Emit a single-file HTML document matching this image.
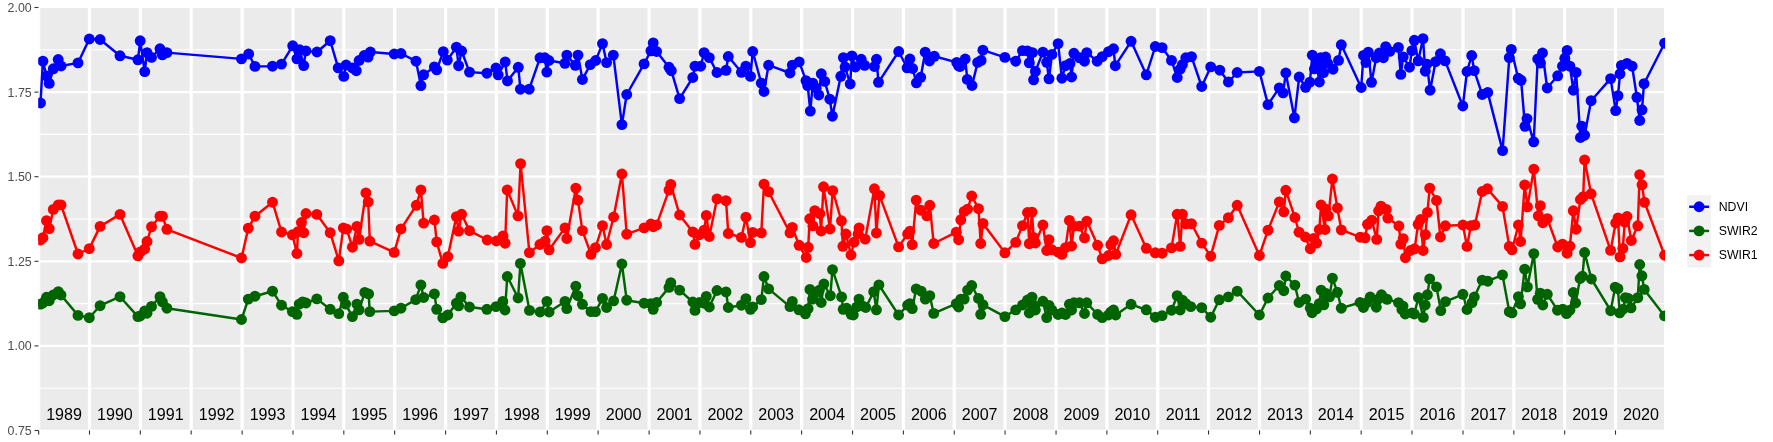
<!DOCTYPE html><html><head><meta charset="utf-8"><style>html,body{margin:0;padding:0;background:#fff;}svg{display:block;will-change:transform;}text{font-family:"Liberation Sans",sans-serif;}</style></head><body>
<svg width="1773" height="442" viewBox="0 0 1773 442">
<rect x="0" y="0" width="1773" height="442" fill="#ffffff"/>
<defs><clipPath id="pc"><rect x="38.4" y="7.9" width="1625.6" height="421.8"/></clipPath><clipPath id="pc2"><rect x="38.2" y="7.9" width="1626.9" height="421.8"/></clipPath></defs>
<rect x="38.4" y="7.9" width="1625.6" height="421.8" fill="#EBEBEB"/>
<g clip-path="url(#pc)">
<line x1="38.4" x2="1664" y1="388.2" y2="388.2" stroke="#fff" stroke-width="1.1"/>
<line x1="38.4" x2="1664" y1="303.6" y2="303.6" stroke="#fff" stroke-width="1.1"/>
<line x1="38.4" x2="1664" y1="219" y2="219" stroke="#fff" stroke-width="1.1"/>
<line x1="38.4" x2="1664" y1="134.4" y2="134.4" stroke="#fff" stroke-width="1.1"/>
<line x1="38.4" x2="1664" y1="49.8" y2="49.8" stroke="#fff" stroke-width="1.1"/>
<line x1="38.4" x2="1664" y1="345.9" y2="345.9" stroke="#fff" stroke-width="2.2"/>
<line x1="38.4" x2="1664" y1="261.3" y2="261.3" stroke="#fff" stroke-width="2.2"/>
<line x1="38.4" x2="1664" y1="176.7" y2="176.7" stroke="#fff" stroke-width="2.2"/>
<line x1="38.4" x2="1664" y1="92.1" y2="92.1" stroke="#fff" stroke-width="2.2"/>
<line x1="38.67" x2="38.67" y1="7.9" y2="429.7" stroke="#fff" stroke-width="3.2"/>
<line x1="89.5" x2="89.5" y1="7.9" y2="429.7" stroke="#fff" stroke-width="3.2"/>
<line x1="140.33" x2="140.33" y1="7.9" y2="429.7" stroke="#fff" stroke-width="3.2"/>
<line x1="191.17" x2="191.17" y1="7.9" y2="429.7" stroke="#fff" stroke-width="3.2"/>
<line x1="242.14" x2="242.14" y1="7.9" y2="429.7" stroke="#fff" stroke-width="3.2"/>
<line x1="292.98" x2="292.98" y1="7.9" y2="429.7" stroke="#fff" stroke-width="3.2"/>
<line x1="343.81" x2="343.81" y1="7.9" y2="429.7" stroke="#fff" stroke-width="3.2"/>
<line x1="394.64" x2="394.64" y1="7.9" y2="429.7" stroke="#fff" stroke-width="3.2"/>
<line x1="445.62" x2="445.62" y1="7.9" y2="429.7" stroke="#fff" stroke-width="3.2"/>
<line x1="496.45" x2="496.45" y1="7.9" y2="429.7" stroke="#fff" stroke-width="3.2"/>
<line x1="547.29" x2="547.29" y1="7.9" y2="429.7" stroke="#fff" stroke-width="3.2"/>
<line x1="598.12" x2="598.12" y1="7.9" y2="429.7" stroke="#fff" stroke-width="3.2"/>
<line x1="649.09" x2="649.09" y1="7.9" y2="429.7" stroke="#fff" stroke-width="3.2"/>
<line x1="699.93" x2="699.93" y1="7.9" y2="429.7" stroke="#fff" stroke-width="3.2"/>
<line x1="750.76" x2="750.76" y1="7.9" y2="429.7" stroke="#fff" stroke-width="3.2"/>
<line x1="801.6" x2="801.6" y1="7.9" y2="429.7" stroke="#fff" stroke-width="3.2"/>
<line x1="852.57" x2="852.57" y1="7.9" y2="429.7" stroke="#fff" stroke-width="3.2"/>
<line x1="903.4" x2="903.4" y1="7.9" y2="429.7" stroke="#fff" stroke-width="3.2"/>
<line x1="954.24" x2="954.24" y1="7.9" y2="429.7" stroke="#fff" stroke-width="3.2"/>
<line x1="1005.07" x2="1005.07" y1="7.9" y2="429.7" stroke="#fff" stroke-width="3.2"/>
<line x1="1056.05" x2="1056.05" y1="7.9" y2="429.7" stroke="#fff" stroke-width="3.2"/>
<line x1="1106.88" x2="1106.88" y1="7.9" y2="429.7" stroke="#fff" stroke-width="3.2"/>
<line x1="1157.71" x2="1157.71" y1="7.9" y2="429.7" stroke="#fff" stroke-width="3.2"/>
<line x1="1208.55" x2="1208.55" y1="7.9" y2="429.7" stroke="#fff" stroke-width="3.2"/>
<line x1="1259.52" x2="1259.52" y1="7.9" y2="429.7" stroke="#fff" stroke-width="3.2"/>
<line x1="1310.36" x2="1310.36" y1="7.9" y2="429.7" stroke="#fff" stroke-width="3.2"/>
<line x1="1361.19" x2="1361.19" y1="7.9" y2="429.7" stroke="#fff" stroke-width="3.2"/>
<line x1="1412.02" x2="1412.02" y1="7.9" y2="429.7" stroke="#fff" stroke-width="3.2"/>
<line x1="1463" x2="1463" y1="7.9" y2="429.7" stroke="#fff" stroke-width="3.2"/>
<line x1="1513.83" x2="1513.83" y1="7.9" y2="429.7" stroke="#fff" stroke-width="3.2"/>
<line x1="1564.67" x2="1564.67" y1="7.9" y2="429.7" stroke="#fff" stroke-width="3.2"/>
<line x1="1615.5" x2="1615.5" y1="7.9" y2="429.7" stroke="#fff" stroke-width="3.2"/>
<line x1="1666.47" x2="1666.47" y1="7.9" y2="429.7" stroke="#fff" stroke-width="3.2"/>
</g><g clip-path="url(#pc2)">
<polyline points="40.5,103 42.9,61.2 46.5,76 49.2,83.4 53.3,68.8 58.2,59.5 61.1,66 78,62.9 89.3,39 100.1,39.5 120,55.8 137.9,59.8 140.2,40.8 144.7,71.6 147,52.6 151.5,57.4 160,48.8 162.4,54.9 166.9,52.6 241.5,58.9 248.7,54 255,66.4 272.5,66.2 281.5,64.1 292.7,45.8 296.9,58.8 299.7,49.8 303.7,65.6 305.9,50.9 317,52 330.2,40.7 338.2,67.9 343.8,76.4 346.1,65 352.4,68 356.3,70.7 359.1,60.5 364.2,55.5 368.1,57.1 370.4,52 394.2,54 401,53.5 416,61.2 420.9,85.6 423.6,74.8 434.4,66.9 436.7,69.8 443.3,51.7 447.3,60.1 456.4,47.2 458.6,65.7 461.6,51 469.5,72.1 486.9,73.2 496,68 498.2,74.8 505.2,61.9 507.5,80.9 518.3,67.3 520.4,89.2 529.2,89.2 540,57.8 544.8,57.8 546.8,72.1 548.9,60.5 564.9,63.3 566.8,55.1 575.3,65.3 578,55.1 582.4,79.5 590.3,64.6 595.7,60.5 602.5,43.6 606.6,62.6 613.3,55.1 621.9,124.6 626.7,94.5 644.1,63.9 650.9,50.8 653.2,42.9 656.6,51.5 669,67.3 671.3,70.7 679.6,98.6 692.8,77.5 695,66.2 700.7,66.2 704.1,52.6 709.3,57.6 717,72.5 726,70.3 728.3,56.5 741.4,72.3 745.9,66.2 750.5,76.4 752.7,51.5 761.3,83.2 764,91.5 768.6,65.1 790,73 792.3,65.1 799.2,61.9 806,80.6 807.7,85.7 810.3,111.1 812.8,83.1 816.2,88.2 818.8,95 821.3,73.8 824.7,81.4 829.8,99.2 832.4,116.2 840.8,76.3 843.4,57.6 845.1,67 850.2,84 851.9,55.9 855.3,67 861.2,59.3 864.6,65.3 874.4,66.5 876.5,59.3 878.5,82.3 898.7,51.5 907.1,67.8 909.9,59 912.6,68.5 916.4,82.8 920.7,77.3 925.2,52.2 929.5,61 934.3,56.3 956.7,62.4 958.6,66 960.1,66.5 965.2,59 967.3,79.4 972,85.5 977.7,62.4 981.1,60.4 982.9,50.2 1004.9,57.4 1015.7,61.2 1022.5,50.6 1027.5,51 1029.3,62.8 1032.5,52.6 1033.6,79.8 1035.4,71.4 1042.9,52.1 1046.7,62.3 1049,78.8 1051.9,54.4 1058.1,43.6 1061.9,78.2 1065.5,65.7 1070,63.5 1071.6,77 1073.9,53.3 1079.5,57.8 1084.5,61.2 1086.8,52.6 1097.2,61.2 1102.2,56.7 1108.5,51.7 1113.5,48.8 1115.3,65.7 1131.1,41.3 1146.3,74.8 1155.3,46.5 1162.1,47.6 1171.5,60.4 1177.2,77.5 1180.2,69.1 1182.4,64.6 1185.8,57.8 1191.5,56.7 1201.7,86.5 1210.7,66.9 1219.8,70.2 1228.4,82 1237.2,72.5 1259.4,71.4 1268,104.6 1279.3,87.9 1283.1,92.9 1285.8,73 1294.4,117.8 1299.2,77 1305.6,87.3 1309.9,82.1 1312.3,55.2 1314.4,68.8 1316.6,63.5 1319.4,82 1320.8,57.7 1323.5,72.6 1325.6,57 1327.6,63.1 1333,69.2 1338.5,60.4 1341.3,44.8 1361.2,87.5 1363.5,55.4 1365.9,62.5 1368.3,52.2 1371.5,82.3 1376.2,57.7 1379.4,53 1383.4,57.7 1385.7,46.6 1389.7,51.4 1398.4,47.4 1400.8,74.4 1403.2,56.9 1409.5,67.2 1411.9,50.6 1414.3,40.3 1418.2,60.9 1423,38.7 1425.3,71.2 1426.9,64.1 1430.1,90.2 1435.6,61.7 1440.4,53.8 1445.1,60.9 1462.8,106 1467,71.5 1471.7,55.5 1474.2,70.6 1482.2,94.5 1487.7,92.4 1502.6,150.6 1509.3,57.6 1511.3,49.4 1518.2,78.3 1521.1,80.3 1525,126.3 1527,118.6 1533.7,141.8 1537.7,59 1540.5,63.1 1542.5,53 1547.2,88 1557.7,75.8 1562.5,66.2 1564.8,58.3 1567.1,50.4 1569.9,66.2 1573.3,90.2 1576.1,72.4 1580.4,137.5 1581.8,126.2 1584.6,135.2 1591.1,100.7 1610.6,78.6 1615.7,110.6 1618,95.6 1620,73.8 1621.4,65.4 1627,63.4 1632.1,66.2 1636.9,97.3 1639.7,120.5 1642,109.8 1644,83.7 1664.6,43.2" fill="none" stroke="#0000FF" stroke-width="2.45" stroke-linejoin="round" stroke-linecap="butt"/>

<polyline points="40.5,240 42.9,237.7 46.5,220.7 49.2,228.6 53.3,209.4 58.3,204.9 61,204.9 78,254 89.3,248.6 100.1,226.4 120,214.4 137.9,255.8 140.2,252 144.7,249 147,241.5 151.5,226.8 160,216.2 162.4,216.2 166.9,229.3 241.5,258 248.3,228.2 255,216.2 272.5,202.2 281.5,232 292.4,234.8 296.9,253.5 298,231.6 301.4,222.5 303.7,232.7 306,213.5 316.8,214.4 330.2,232.7 338.8,260.8 343.3,228 346.7,229.1 352.4,247.2 356.9,226.4 359.1,239.3 365.9,192.9 368.2,201.9 369.8,241.1 394.2,252.4 401,228.9 416.3,205.3 420.9,189.9 423.6,223.1 434.4,220 436.7,241.9 442.8,263.4 447.8,256.6 456.4,216.6 458.6,231.1 461.6,214.3 469.5,230.6 487.2,240 496.4,241 503,236 505.1,243.2 507.2,190 518,215.9 520.6,163.6 529.4,252.6 539.9,244.5 545.1,241.1 546.9,230.7 549.1,249.8 565,227.9 566.8,238.5 575.8,188.1 577.9,200.1 582.4,230.6 591,254.4 595.5,247.6 602.5,225.6 606.6,244.5 613.6,217 621.9,174 626.7,234.2 644.1,227.9 650.9,224 653.2,226.7 656.6,224.9 669,190.1 670.8,184.4 679.6,215 692.8,231.9 695,244.4 699.5,234.7 704.1,230.1 706.3,215.4 709.3,236.5 717,198.9 726,200.7 728.3,233.5 741.4,237.4 745.9,217.2 750.5,242.6 752.7,232.4 761.3,232.9 764,184.2 768.6,191.7 790,232.9 792.3,227.4 799.1,245.3 806.2,257.5 808.2,247.3 809.7,218.8 812.9,225.9 814.8,210.6 819.8,213.7 821.1,231 823.5,186.8 830,229 832.7,190.7 841.4,220.8 842.9,246.3 845.9,234 851,255 854,242.2 858.1,234 859.1,227.9 865.2,239.1 874.4,188.8 876.4,233 879.5,195.4 898.6,246.9 907.6,234 909.9,231.1 912.2,244.6 916.2,200.1 920.8,210.2 926.9,215.9 929.8,205.3 933.7,243.5 956.3,232.2 958.6,239.7 960.8,219.8 964.2,211.4 967.6,209.1 971.7,196 978.5,208.7 980.7,243.5 983,223.4 1004.9,252.8 1015.7,242.4 1022.5,225.6 1027.5,212.5 1029.3,243.7 1032,212.1 1033.6,237.4 1035.4,243 1042.9,225 1046.7,250.5 1049,239.7 1051.9,249.8 1058.1,252.1 1061.9,254.4 1065.5,247.6 1069.4,220.4 1071.6,246 1073.9,226.1 1079.5,226.1 1084.5,237.9 1086.8,221.1 1097.6,245.3 1102.2,258.9 1108.5,255.5 1110.8,244.6 1113.5,240.8 1115.7,254.4 1131.1,214.8 1146.3,248.3 1155.3,252.8 1162.1,253.2 1171.5,247.9 1177.2,214.3 1180.2,246.4 1182.4,214.3 1185.8,223.8 1191.5,223.8 1201.7,243.1 1210.7,256.2 1219.3,225.4 1228.4,217.7 1237.2,205.3 1259.4,255.5 1268,230.2 1279.3,201.9 1283.8,211.8 1285.8,190.3 1294.9,217.5 1299,232.2 1305.3,237 1310.3,248.7 1313.7,238.5 1316.6,243.1 1319.3,229.5 1321.1,205 1325,229.5 1325.7,209.1 1328.4,215.9 1332.4,179 1337.4,208 1341.3,229.9 1360.2,237.2 1365.1,237.8 1367.5,224.3 1371.8,220.2 1376.7,239.4 1378.6,210.8 1381,206.1 1386.3,209.4 1387.8,218.1 1398.9,226 1400.8,244.1 1403.2,238.6 1405.4,257.7 1410.5,250.5 1414.6,248.8 1418.1,224.3 1420.6,219.5 1423.1,250.5 1425.4,234.6 1427.4,212.4 1429.7,188.1 1436.5,200.5 1440.4,237 1445.3,225.8 1462.9,225 1467,246.4 1470.9,225.6 1474.9,225 1482.2,191.5 1487.4,188.8 1502.5,206.4 1509.3,246.4 1512,249.8 1518.4,225 1520.6,241.5 1524.7,184.9 1527.4,206.9 1533.8,169.1 1538.3,215.9 1540.3,205.7 1542.8,222.7 1547.3,218.6 1557.7,247 1562.5,244.2 1567.1,253.2 1569.9,246.2 1573.3,210.8 1576.1,229.2 1580.4,199.5 1583.2,196.7 1584.6,159.9 1591.1,193.8 1610.6,250.4 1615.7,223 1618,217.9 1620,256.9 1622.8,248.4 1624.8,222.1 1627,216.5 1631.3,240.5 1637.8,225.8 1639.7,174.6 1642,184.8 1644.5,202.3 1664.6,255.2" fill="none" stroke="#FF0000" stroke-width="2.45" stroke-linejoin="round" stroke-linecap="butt"/>

<polyline points="40.5,304.1 42.9,303 46.5,297.3 49.2,300.7 53.3,295 58.3,291.7 61,295 78,315.4 89.3,317.7 100.1,305.7 120,296.7 137.9,316.6 140.2,316 144.7,311 147,313.2 151.5,306.4 160,296.7 162.4,301.9 166.9,308.2 241.5,319.5 248.3,299.1 255,296.2 272.5,291.2 281.5,305.2 292.4,311.6 296.9,314.3 299.2,304.1 302.6,301.9 306,303 316.8,298.9 330.2,309.3 338.8,313.6 343.3,297.3 345.6,304.1 352.4,316.6 356.9,304.1 359.1,309.8 364.8,292.4 368.6,293.9 369.8,311.6 394.2,310.9 401,308.2 415.7,299.6 420.9,284.9 423.6,297.5 434.4,293.9 436.7,309.3 442.8,317.9 447.8,315 456.4,303.2 458.6,305.9 460.9,296.9 469.5,307 486.9,309.3 496,306.6 502.8,301.4 505,310 507.3,276.5 518.1,298 520.4,263.4 529.5,310.4 540.1,312 546.9,301.4 549.1,312 565,301.4 566.8,308.6 575.8,286.2 577.9,295.7 582.4,304.3 591,311.6 595.5,311.6 602.5,298.4 606.6,307.5 613.6,300.9 621.9,264 626.7,300.2 644.1,303.2 650.9,303.6 653.2,309.3 656.6,302.5 669,287.4 670.8,282.6 679.6,290.1 692.8,302 695,310.4 699.5,302.5 704.1,303.2 706.3,296.4 709.3,307 717,290.5 726,291.9 728.3,307.5 741.4,305.2 745.9,298.7 750.5,309.3 752.7,307 761.3,299.6 764,276.5 768.6,288.9 790,306.6 792.3,301.4 799,309.8 805.4,313.8 808.1,308.6 809.9,289.4 812.6,299.1 814.9,293.5 819.4,290.1 821.2,302.5 823.9,284 830.3,295.7 832.5,269.7 841.6,296.9 843.2,309.3 846.6,308.2 851.1,314.3 853.3,315 856.7,307 859,299.1 862.4,305.9 865.8,307.5 873.7,291.7 876.4,309.8 878.9,284.9 898.6,315 907.6,305.2 909.9,303.6 912.2,308.6 916.2,288.9 921.2,291.2 925.3,299.1 929.8,295.7 933.7,313.4 956.3,303.6 958.6,307 960.8,299.1 964.2,299.1 967.6,290.1 971.7,285.5 978.5,298.4 980.7,314.3 983,304.8 1004.9,316.6 1015.7,309.9 1022.5,305 1027.5,300 1029.3,313 1032,297.2 1033.6,305 1035.4,310 1042.9,301.3 1046.7,317.6 1049,305.4 1051.9,310 1058.1,314.5 1061.9,313 1065.5,314.5 1069.4,304.3 1071.6,310 1073.9,302.8 1079.5,302.8 1084.5,313.5 1086.8,302.8 1097.6,314.5 1102.2,317.6 1108.5,315 1110.8,312 1113.5,310 1115.7,315 1131.1,304.3 1146.3,309.8 1155.3,317.2 1162.1,315.6 1171.5,310.2 1177.2,295.7 1180.2,310 1182.4,300.2 1185.8,303.6 1190.8,306.6 1201.7,307.7 1210.7,317.2 1219.3,299.8 1228.4,296.9 1237.2,291.2 1259.4,315 1268,298 1279.3,285.5 1283.8,290.7 1285.8,276 1294.9,285.1 1299,302.5 1305.7,299.1 1310.3,308.2 1312.1,312.7 1316.6,308.8 1319.3,303.6 1321.1,290.1 1323.8,304.8 1326.1,293.5 1329.5,296.9 1332.4,278.1 1337.4,292.3 1341.3,308.2 1360,302.5 1363.4,307.5 1366.8,302.7 1370.2,297 1376.3,307.2 1378.6,299 1381.5,294.8 1387.1,299.3 1398.5,302.7 1401.9,309.5 1403,306.1 1405.2,314 1412,312.9 1414.3,314 1418.4,297.5 1423.3,317.4 1425.2,305 1427.4,294.8 1429.7,278.9 1436.5,286.9 1440.8,310.6 1445.5,301.6 1462.9,294.3 1467,309.5 1472,302.7 1474.3,297 1482.2,280.1 1487.8,281.2 1502.5,274.9 1509.3,311.7 1512,312.9 1518.4,296.6 1520.6,303.8 1524.7,269.2 1527.4,286.9 1533.8,253.6 1537.6,299.3 1540.3,293.2 1542.8,305 1547.3,294.3 1557.5,310.2 1562.7,309.1 1566.5,313.6 1569.9,310.2 1573.3,292.5 1575.6,303 1580.1,278.5 1582.4,276.2 1584.6,252.5 1591.4,279 1610.7,310.7 1615.2,287.1 1617.9,288.7 1619.7,312.9 1623.1,309.1 1625.4,297.7 1628.3,298.4 1631,307.9 1637.8,297.7 1639.7,264.5 1641.9,275.8 1644.2,289.4 1664.6,315.9" fill="none" stroke="#006400" stroke-width="2.45" stroke-linejoin="round" stroke-linecap="butt"/>

<g fill="#0000FF">
<circle cx="40.5" cy="103" r="5.45"/>
<circle cx="42.9" cy="61.2" r="5.45"/>
<circle cx="46.5" cy="76" r="5.45"/>
<circle cx="49.2" cy="83.4" r="5.45"/>
<circle cx="53.3" cy="68.8" r="5.45"/>
<circle cx="58.2" cy="59.5" r="5.45"/>
<circle cx="61.1" cy="66" r="5.45"/>
<circle cx="78" cy="62.9" r="5.45"/>
<circle cx="89.3" cy="39" r="5.45"/>
<circle cx="100.1" cy="39.5" r="5.45"/>
<circle cx="120" cy="55.8" r="5.45"/>
<circle cx="137.9" cy="59.8" r="5.45"/>
<circle cx="140.2" cy="40.8" r="5.45"/>
<circle cx="144.7" cy="71.6" r="5.45"/>
<circle cx="147" cy="52.6" r="5.45"/>
<circle cx="151.5" cy="57.4" r="5.45"/>
<circle cx="160" cy="48.8" r="5.45"/>
<circle cx="162.4" cy="54.9" r="5.45"/>
<circle cx="166.9" cy="52.6" r="5.45"/>
<circle cx="241.5" cy="58.9" r="5.45"/>
<circle cx="248.7" cy="54" r="5.45"/>
<circle cx="255" cy="66.4" r="5.45"/>
<circle cx="272.5" cy="66.2" r="5.45"/>
<circle cx="281.5" cy="64.1" r="5.45"/>
<circle cx="292.7" cy="45.8" r="5.45"/>
<circle cx="296.9" cy="58.8" r="5.45"/>
<circle cx="299.7" cy="49.8" r="5.45"/>
<circle cx="303.7" cy="65.6" r="5.45"/>
<circle cx="305.9" cy="50.9" r="5.45"/>
<circle cx="317" cy="52" r="5.45"/>
<circle cx="330.2" cy="40.7" r="5.45"/>
<circle cx="338.2" cy="67.9" r="5.45"/>
<circle cx="343.8" cy="76.4" r="5.45"/>
<circle cx="346.1" cy="65" r="5.45"/>
<circle cx="352.4" cy="68" r="5.45"/>
<circle cx="356.3" cy="70.7" r="5.45"/>
<circle cx="359.1" cy="60.5" r="5.45"/>
<circle cx="364.2" cy="55.5" r="5.45"/>
<circle cx="368.1" cy="57.1" r="5.45"/>
<circle cx="370.4" cy="52" r="5.45"/>
<circle cx="394.2" cy="54" r="5.45"/>
<circle cx="401" cy="53.5" r="5.45"/>
<circle cx="416" cy="61.2" r="5.45"/>
<circle cx="420.9" cy="85.6" r="5.45"/>
<circle cx="423.6" cy="74.8" r="5.45"/>
<circle cx="434.4" cy="66.9" r="5.45"/>
<circle cx="436.7" cy="69.8" r="5.45"/>
<circle cx="443.3" cy="51.7" r="5.45"/>
<circle cx="447.3" cy="60.1" r="5.45"/>
<circle cx="456.4" cy="47.2" r="5.45"/>
<circle cx="458.6" cy="65.7" r="5.45"/>
<circle cx="461.6" cy="51" r="5.45"/>
<circle cx="469.5" cy="72.1" r="5.45"/>
<circle cx="486.9" cy="73.2" r="5.45"/>
<circle cx="496" cy="68" r="5.45"/>
<circle cx="498.2" cy="74.8" r="5.45"/>
<circle cx="505.2" cy="61.9" r="5.45"/>
<circle cx="507.5" cy="80.9" r="5.45"/>
<circle cx="518.3" cy="67.3" r="5.45"/>
<circle cx="520.4" cy="89.2" r="5.45"/>
<circle cx="529.2" cy="89.2" r="5.45"/>
<circle cx="540" cy="57.8" r="5.45"/>
<circle cx="544.8" cy="57.8" r="5.45"/>
<circle cx="546.8" cy="72.1" r="5.45"/>
<circle cx="548.9" cy="60.5" r="5.45"/>
<circle cx="564.9" cy="63.3" r="5.45"/>
<circle cx="566.8" cy="55.1" r="5.45"/>
<circle cx="575.3" cy="65.3" r="5.45"/>
<circle cx="578" cy="55.1" r="5.45"/>
<circle cx="582.4" cy="79.5" r="5.45"/>
<circle cx="590.3" cy="64.6" r="5.45"/>
<circle cx="595.7" cy="60.5" r="5.45"/>
<circle cx="602.5" cy="43.6" r="5.45"/>
<circle cx="606.6" cy="62.6" r="5.45"/>
<circle cx="613.3" cy="55.1" r="5.45"/>
<circle cx="621.9" cy="124.6" r="5.45"/>
<circle cx="626.7" cy="94.5" r="5.45"/>
<circle cx="644.1" cy="63.9" r="5.45"/>
<circle cx="650.9" cy="50.8" r="5.45"/>
<circle cx="653.2" cy="42.9" r="5.45"/>
<circle cx="656.6" cy="51.5" r="5.45"/>
<circle cx="669" cy="67.3" r="5.45"/>
<circle cx="671.3" cy="70.7" r="5.45"/>
<circle cx="679.6" cy="98.6" r="5.45"/>
<circle cx="692.8" cy="77.5" r="5.45"/>
<circle cx="695" cy="66.2" r="5.45"/>
<circle cx="700.7" cy="66.2" r="5.45"/>
<circle cx="704.1" cy="52.6" r="5.45"/>
<circle cx="709.3" cy="57.6" r="5.45"/>
<circle cx="717" cy="72.5" r="5.45"/>
<circle cx="726" cy="70.3" r="5.45"/>
<circle cx="728.3" cy="56.5" r="5.45"/>
<circle cx="741.4" cy="72.3" r="5.45"/>
<circle cx="745.9" cy="66.2" r="5.45"/>
<circle cx="750.5" cy="76.4" r="5.45"/>
<circle cx="752.7" cy="51.5" r="5.45"/>
<circle cx="761.3" cy="83.2" r="5.45"/>
<circle cx="764" cy="91.5" r="5.45"/>
<circle cx="768.6" cy="65.1" r="5.45"/>
<circle cx="790" cy="73" r="5.45"/>
<circle cx="792.3" cy="65.1" r="5.45"/>
<circle cx="799.2" cy="61.9" r="5.45"/>
<circle cx="806" cy="80.6" r="5.45"/>
<circle cx="807.7" cy="85.7" r="5.45"/>
<circle cx="810.3" cy="111.1" r="5.45"/>
<circle cx="812.8" cy="83.1" r="5.45"/>
<circle cx="816.2" cy="88.2" r="5.45"/>
<circle cx="818.8" cy="95" r="5.45"/>
<circle cx="821.3" cy="73.8" r="5.45"/>
<circle cx="824.7" cy="81.4" r="5.45"/>
<circle cx="829.8" cy="99.2" r="5.45"/>
<circle cx="832.4" cy="116.2" r="5.45"/>
<circle cx="840.8" cy="76.3" r="5.45"/>
<circle cx="843.4" cy="57.6" r="5.45"/>
<circle cx="845.1" cy="67" r="5.45"/>
<circle cx="850.2" cy="84" r="5.45"/>
<circle cx="851.9" cy="55.9" r="5.45"/>
<circle cx="855.3" cy="67" r="5.45"/>
<circle cx="861.2" cy="59.3" r="5.45"/>
<circle cx="864.6" cy="65.3" r="5.45"/>
<circle cx="874.4" cy="66.5" r="5.45"/>
<circle cx="876.5" cy="59.3" r="5.45"/>
<circle cx="878.5" cy="82.3" r="5.45"/>
<circle cx="898.7" cy="51.5" r="5.45"/>
<circle cx="907.1" cy="67.8" r="5.45"/>
<circle cx="909.9" cy="59" r="5.45"/>
<circle cx="912.6" cy="68.5" r="5.45"/>
<circle cx="916.4" cy="82.8" r="5.45"/>
<circle cx="920.7" cy="77.3" r="5.45"/>
<circle cx="925.2" cy="52.2" r="5.45"/>
<circle cx="929.5" cy="61" r="5.45"/>
<circle cx="934.3" cy="56.3" r="5.45"/>
<circle cx="956.7" cy="62.4" r="5.45"/>
<circle cx="958.6" cy="66" r="5.45"/>
<circle cx="960.1" cy="66.5" r="5.45"/>
<circle cx="965.2" cy="59" r="5.45"/>
<circle cx="967.3" cy="79.4" r="5.45"/>
<circle cx="972" cy="85.5" r="5.45"/>
<circle cx="977.7" cy="62.4" r="5.45"/>
<circle cx="981.1" cy="60.4" r="5.45"/>
<circle cx="982.9" cy="50.2" r="5.45"/>
<circle cx="1004.9" cy="57.4" r="5.45"/>
<circle cx="1015.7" cy="61.2" r="5.45"/>
<circle cx="1022.5" cy="50.6" r="5.45"/>
<circle cx="1027.5" cy="51" r="5.45"/>
<circle cx="1029.3" cy="62.8" r="5.45"/>
<circle cx="1032.5" cy="52.6" r="5.45"/>
<circle cx="1033.6" cy="79.8" r="5.45"/>
<circle cx="1035.4" cy="71.4" r="5.45"/>
<circle cx="1042.9" cy="52.1" r="5.45"/>
<circle cx="1046.7" cy="62.3" r="5.45"/>
<circle cx="1049" cy="78.8" r="5.45"/>
<circle cx="1051.9" cy="54.4" r="5.45"/>
<circle cx="1058.1" cy="43.6" r="5.45"/>
<circle cx="1061.9" cy="78.2" r="5.45"/>
<circle cx="1065.5" cy="65.7" r="5.45"/>
<circle cx="1070" cy="63.5" r="5.45"/>
<circle cx="1071.6" cy="77" r="5.45"/>
<circle cx="1073.9" cy="53.3" r="5.45"/>
<circle cx="1079.5" cy="57.8" r="5.45"/>
<circle cx="1084.5" cy="61.2" r="5.45"/>
<circle cx="1086.8" cy="52.6" r="5.45"/>
<circle cx="1097.2" cy="61.2" r="5.45"/>
<circle cx="1102.2" cy="56.7" r="5.45"/>
<circle cx="1108.5" cy="51.7" r="5.45"/>
<circle cx="1113.5" cy="48.8" r="5.45"/>
<circle cx="1115.3" cy="65.7" r="5.45"/>
<circle cx="1131.1" cy="41.3" r="5.45"/>
<circle cx="1146.3" cy="74.8" r="5.45"/>
<circle cx="1155.3" cy="46.5" r="5.45"/>
<circle cx="1162.1" cy="47.6" r="5.45"/>
<circle cx="1171.5" cy="60.4" r="5.45"/>
<circle cx="1177.2" cy="77.5" r="5.45"/>
<circle cx="1180.2" cy="69.1" r="5.45"/>
<circle cx="1182.4" cy="64.6" r="5.45"/>
<circle cx="1185.8" cy="57.8" r="5.45"/>
<circle cx="1191.5" cy="56.7" r="5.45"/>
<circle cx="1201.7" cy="86.5" r="5.45"/>
<circle cx="1210.7" cy="66.9" r="5.45"/>
<circle cx="1219.8" cy="70.2" r="5.45"/>
<circle cx="1228.4" cy="82" r="5.45"/>
<circle cx="1237.2" cy="72.5" r="5.45"/>
<circle cx="1259.4" cy="71.4" r="5.45"/>
<circle cx="1268" cy="104.6" r="5.45"/>
<circle cx="1279.3" cy="87.9" r="5.45"/>
<circle cx="1283.1" cy="92.9" r="5.45"/>
<circle cx="1285.8" cy="73" r="5.45"/>
<circle cx="1294.4" cy="117.8" r="5.45"/>
<circle cx="1299.2" cy="77" r="5.45"/>
<circle cx="1305.6" cy="87.3" r="5.45"/>
<circle cx="1309.9" cy="82.1" r="5.45"/>
<circle cx="1312.3" cy="55.2" r="5.45"/>
<circle cx="1314.4" cy="68.8" r="5.45"/>
<circle cx="1316.6" cy="63.5" r="5.45"/>
<circle cx="1319.4" cy="82" r="5.45"/>
<circle cx="1320.8" cy="57.7" r="5.45"/>
<circle cx="1323.5" cy="72.6" r="5.45"/>
<circle cx="1325.6" cy="57" r="5.45"/>
<circle cx="1327.6" cy="63.1" r="5.45"/>
<circle cx="1333" cy="69.2" r="5.45"/>
<circle cx="1338.5" cy="60.4" r="5.45"/>
<circle cx="1341.3" cy="44.8" r="5.45"/>
<circle cx="1361.2" cy="87.5" r="5.45"/>
<circle cx="1363.5" cy="55.4" r="5.45"/>
<circle cx="1365.9" cy="62.5" r="5.45"/>
<circle cx="1368.3" cy="52.2" r="5.45"/>
<circle cx="1371.5" cy="82.3" r="5.45"/>
<circle cx="1376.2" cy="57.7" r="5.45"/>
<circle cx="1379.4" cy="53" r="5.45"/>
<circle cx="1383.4" cy="57.7" r="5.45"/>
<circle cx="1385.7" cy="46.6" r="5.45"/>
<circle cx="1389.7" cy="51.4" r="5.45"/>
<circle cx="1398.4" cy="47.4" r="5.45"/>
<circle cx="1400.8" cy="74.4" r="5.45"/>
<circle cx="1403.2" cy="56.9" r="5.45"/>
<circle cx="1409.5" cy="67.2" r="5.45"/>
<circle cx="1411.9" cy="50.6" r="5.45"/>
<circle cx="1414.3" cy="40.3" r="5.45"/>
<circle cx="1418.2" cy="60.9" r="5.45"/>
<circle cx="1423" cy="38.7" r="5.45"/>
<circle cx="1425.3" cy="71.2" r="5.45"/>
<circle cx="1426.9" cy="64.1" r="5.45"/>
<circle cx="1430.1" cy="90.2" r="5.45"/>
<circle cx="1435.6" cy="61.7" r="5.45"/>
<circle cx="1440.4" cy="53.8" r="5.45"/>
<circle cx="1445.1" cy="60.9" r="5.45"/>
<circle cx="1462.8" cy="106" r="5.45"/>
<circle cx="1467" cy="71.5" r="5.45"/>
<circle cx="1471.7" cy="55.5" r="5.45"/>
<circle cx="1474.2" cy="70.6" r="5.45"/>
<circle cx="1482.2" cy="94.5" r="5.45"/>
<circle cx="1487.7" cy="92.4" r="5.45"/>
<circle cx="1502.6" cy="150.6" r="5.45"/>
<circle cx="1509.3" cy="57.6" r="5.45"/>
<circle cx="1511.3" cy="49.4" r="5.45"/>
<circle cx="1518.2" cy="78.3" r="5.45"/>
<circle cx="1521.1" cy="80.3" r="5.45"/>
<circle cx="1525" cy="126.3" r="5.45"/>
<circle cx="1527" cy="118.6" r="5.45"/>
<circle cx="1533.7" cy="141.8" r="5.45"/>
<circle cx="1537.7" cy="59" r="5.45"/>
<circle cx="1540.5" cy="63.1" r="5.45"/>
<circle cx="1542.5" cy="53" r="5.45"/>
<circle cx="1547.2" cy="88" r="5.45"/>
<circle cx="1557.7" cy="75.8" r="5.45"/>
<circle cx="1562.5" cy="66.2" r="5.45"/>
<circle cx="1564.8" cy="58.3" r="5.45"/>
<circle cx="1567.1" cy="50.4" r="5.45"/>
<circle cx="1569.9" cy="66.2" r="5.45"/>
<circle cx="1573.3" cy="90.2" r="5.45"/>
<circle cx="1576.1" cy="72.4" r="5.45"/>
<circle cx="1580.4" cy="137.5" r="5.45"/>
<circle cx="1581.8" cy="126.2" r="5.45"/>
<circle cx="1584.6" cy="135.2" r="5.45"/>
<circle cx="1591.1" cy="100.7" r="5.45"/>
<circle cx="1610.6" cy="78.6" r="5.45"/>
<circle cx="1615.7" cy="110.6" r="5.45"/>
<circle cx="1618" cy="95.6" r="5.45"/>
<circle cx="1620" cy="73.8" r="5.45"/>
<circle cx="1621.4" cy="65.4" r="5.45"/>
<circle cx="1627" cy="63.4" r="5.45"/>
<circle cx="1632.1" cy="66.2" r="5.45"/>
<circle cx="1636.9" cy="97.3" r="5.45"/>
<circle cx="1639.7" cy="120.5" r="5.45"/>
<circle cx="1642" cy="109.8" r="5.45"/>
<circle cx="1644" cy="83.7" r="5.45"/>
<circle cx="1664.6" cy="43.2" r="5.45"/>
</g>
<g fill="#FF0000">
<circle cx="40.5" cy="240" r="5.45"/>
<circle cx="42.9" cy="237.7" r="5.45"/>
<circle cx="46.5" cy="220.7" r="5.45"/>
<circle cx="49.2" cy="228.6" r="5.45"/>
<circle cx="53.3" cy="209.4" r="5.45"/>
<circle cx="58.3" cy="204.9" r="5.45"/>
<circle cx="61" cy="204.9" r="5.45"/>
<circle cx="78" cy="254" r="5.45"/>
<circle cx="89.3" cy="248.6" r="5.45"/>
<circle cx="100.1" cy="226.4" r="5.45"/>
<circle cx="120" cy="214.4" r="5.45"/>
<circle cx="137.9" cy="255.8" r="5.45"/>
<circle cx="140.2" cy="252" r="5.45"/>
<circle cx="144.7" cy="249" r="5.45"/>
<circle cx="147" cy="241.5" r="5.45"/>
<circle cx="151.5" cy="226.8" r="5.45"/>
<circle cx="160" cy="216.2" r="5.45"/>
<circle cx="162.4" cy="216.2" r="5.45"/>
<circle cx="166.9" cy="229.3" r="5.45"/>
<circle cx="241.5" cy="258" r="5.45"/>
<circle cx="248.3" cy="228.2" r="5.45"/>
<circle cx="255" cy="216.2" r="5.45"/>
<circle cx="272.5" cy="202.2" r="5.45"/>
<circle cx="281.5" cy="232" r="5.45"/>
<circle cx="292.4" cy="234.8" r="5.45"/>
<circle cx="296.9" cy="253.5" r="5.45"/>
<circle cx="298" cy="231.6" r="5.45"/>
<circle cx="301.4" cy="222.5" r="5.45"/>
<circle cx="303.7" cy="232.7" r="5.45"/>
<circle cx="306" cy="213.5" r="5.45"/>
<circle cx="316.8" cy="214.4" r="5.45"/>
<circle cx="330.2" cy="232.7" r="5.45"/>
<circle cx="338.8" cy="260.8" r="5.45"/>
<circle cx="343.3" cy="228" r="5.45"/>
<circle cx="346.7" cy="229.1" r="5.45"/>
<circle cx="352.4" cy="247.2" r="5.45"/>
<circle cx="356.9" cy="226.4" r="5.45"/>
<circle cx="359.1" cy="239.3" r="5.45"/>
<circle cx="365.9" cy="192.9" r="5.45"/>
<circle cx="368.2" cy="201.9" r="5.45"/>
<circle cx="369.8" cy="241.1" r="5.45"/>
<circle cx="394.2" cy="252.4" r="5.45"/>
<circle cx="401" cy="228.9" r="5.45"/>
<circle cx="416.3" cy="205.3" r="5.45"/>
<circle cx="420.9" cy="189.9" r="5.45"/>
<circle cx="423.6" cy="223.1" r="5.45"/>
<circle cx="434.4" cy="220" r="5.45"/>
<circle cx="436.7" cy="241.9" r="5.45"/>
<circle cx="442.8" cy="263.4" r="5.45"/>
<circle cx="447.8" cy="256.6" r="5.45"/>
<circle cx="456.4" cy="216.6" r="5.45"/>
<circle cx="458.6" cy="231.1" r="5.45"/>
<circle cx="461.6" cy="214.3" r="5.45"/>
<circle cx="469.5" cy="230.6" r="5.45"/>
<circle cx="487.2" cy="240" r="5.45"/>
<circle cx="496.4" cy="241" r="5.45"/>
<circle cx="503" cy="236" r="5.45"/>
<circle cx="505.1" cy="243.2" r="5.45"/>
<circle cx="507.2" cy="190" r="5.45"/>
<circle cx="518" cy="215.9" r="5.45"/>
<circle cx="520.6" cy="163.6" r="5.45"/>
<circle cx="529.4" cy="252.6" r="5.45"/>
<circle cx="539.9" cy="244.5" r="5.45"/>
<circle cx="545.1" cy="241.1" r="5.45"/>
<circle cx="546.9" cy="230.7" r="5.45"/>
<circle cx="549.1" cy="249.8" r="5.45"/>
<circle cx="565" cy="227.9" r="5.45"/>
<circle cx="566.8" cy="238.5" r="5.45"/>
<circle cx="575.8" cy="188.1" r="5.45"/>
<circle cx="577.9" cy="200.1" r="5.45"/>
<circle cx="582.4" cy="230.6" r="5.45"/>
<circle cx="591" cy="254.4" r="5.45"/>
<circle cx="595.5" cy="247.6" r="5.45"/>
<circle cx="602.5" cy="225.6" r="5.45"/>
<circle cx="606.6" cy="244.5" r="5.45"/>
<circle cx="613.6" cy="217" r="5.45"/>
<circle cx="621.9" cy="174" r="5.45"/>
<circle cx="626.7" cy="234.2" r="5.45"/>
<circle cx="644.1" cy="227.9" r="5.45"/>
<circle cx="650.9" cy="224" r="5.45"/>
<circle cx="653.2" cy="226.7" r="5.45"/>
<circle cx="656.6" cy="224.9" r="5.45"/>
<circle cx="669" cy="190.1" r="5.45"/>
<circle cx="670.8" cy="184.4" r="5.45"/>
<circle cx="679.6" cy="215" r="5.45"/>
<circle cx="692.8" cy="231.9" r="5.45"/>
<circle cx="695" cy="244.4" r="5.45"/>
<circle cx="699.5" cy="234.7" r="5.45"/>
<circle cx="704.1" cy="230.1" r="5.45"/>
<circle cx="706.3" cy="215.4" r="5.45"/>
<circle cx="709.3" cy="236.5" r="5.45"/>
<circle cx="717" cy="198.9" r="5.45"/>
<circle cx="726" cy="200.7" r="5.45"/>
<circle cx="728.3" cy="233.5" r="5.45"/>
<circle cx="741.4" cy="237.4" r="5.45"/>
<circle cx="745.9" cy="217.2" r="5.45"/>
<circle cx="750.5" cy="242.6" r="5.45"/>
<circle cx="752.7" cy="232.4" r="5.45"/>
<circle cx="761.3" cy="232.9" r="5.45"/>
<circle cx="764" cy="184.2" r="5.45"/>
<circle cx="768.6" cy="191.7" r="5.45"/>
<circle cx="790" cy="232.9" r="5.45"/>
<circle cx="792.3" cy="227.4" r="5.45"/>
<circle cx="799.1" cy="245.3" r="5.45"/>
<circle cx="806.2" cy="257.5" r="5.45"/>
<circle cx="808.2" cy="247.3" r="5.45"/>
<circle cx="809.7" cy="218.8" r="5.45"/>
<circle cx="812.9" cy="225.9" r="5.45"/>
<circle cx="814.8" cy="210.6" r="5.45"/>
<circle cx="819.8" cy="213.7" r="5.45"/>
<circle cx="821.1" cy="231" r="5.45"/>
<circle cx="823.5" cy="186.8" r="5.45"/>
<circle cx="830" cy="229" r="5.45"/>
<circle cx="832.7" cy="190.7" r="5.45"/>
<circle cx="841.4" cy="220.8" r="5.45"/>
<circle cx="842.9" cy="246.3" r="5.45"/>
<circle cx="845.9" cy="234" r="5.45"/>
<circle cx="851" cy="255" r="5.45"/>
<circle cx="854" cy="242.2" r="5.45"/>
<circle cx="858.1" cy="234" r="5.45"/>
<circle cx="859.1" cy="227.9" r="5.45"/>
<circle cx="865.2" cy="239.1" r="5.45"/>
<circle cx="874.4" cy="188.8" r="5.45"/>
<circle cx="876.4" cy="233" r="5.45"/>
<circle cx="879.5" cy="195.4" r="5.45"/>
<circle cx="898.6" cy="246.9" r="5.45"/>
<circle cx="907.6" cy="234" r="5.45"/>
<circle cx="909.9" cy="231.1" r="5.45"/>
<circle cx="912.2" cy="244.6" r="5.45"/>
<circle cx="916.2" cy="200.1" r="5.45"/>
<circle cx="920.8" cy="210.2" r="5.45"/>
<circle cx="926.9" cy="215.9" r="5.45"/>
<circle cx="929.8" cy="205.3" r="5.45"/>
<circle cx="933.7" cy="243.5" r="5.45"/>
<circle cx="956.3" cy="232.2" r="5.45"/>
<circle cx="958.6" cy="239.7" r="5.45"/>
<circle cx="960.8" cy="219.8" r="5.45"/>
<circle cx="964.2" cy="211.4" r="5.45"/>
<circle cx="967.6" cy="209.1" r="5.45"/>
<circle cx="971.7" cy="196" r="5.45"/>
<circle cx="978.5" cy="208.7" r="5.45"/>
<circle cx="980.7" cy="243.5" r="5.45"/>
<circle cx="983" cy="223.4" r="5.45"/>
<circle cx="1004.9" cy="252.8" r="5.45"/>
<circle cx="1015.7" cy="242.4" r="5.45"/>
<circle cx="1022.5" cy="225.6" r="5.45"/>
<circle cx="1027.5" cy="212.5" r="5.45"/>
<circle cx="1029.3" cy="243.7" r="5.45"/>
<circle cx="1032" cy="212.1" r="5.45"/>
<circle cx="1033.6" cy="237.4" r="5.45"/>
<circle cx="1035.4" cy="243" r="5.45"/>
<circle cx="1042.9" cy="225" r="5.45"/>
<circle cx="1046.7" cy="250.5" r="5.45"/>
<circle cx="1049" cy="239.7" r="5.45"/>
<circle cx="1051.9" cy="249.8" r="5.45"/>
<circle cx="1058.1" cy="252.1" r="5.45"/>
<circle cx="1061.9" cy="254.4" r="5.45"/>
<circle cx="1065.5" cy="247.6" r="5.45"/>
<circle cx="1069.4" cy="220.4" r="5.45"/>
<circle cx="1071.6" cy="246" r="5.45"/>
<circle cx="1073.9" cy="226.1" r="5.45"/>
<circle cx="1079.5" cy="226.1" r="5.45"/>
<circle cx="1084.5" cy="237.9" r="5.45"/>
<circle cx="1086.8" cy="221.1" r="5.45"/>
<circle cx="1097.6" cy="245.3" r="5.45"/>
<circle cx="1102.2" cy="258.9" r="5.45"/>
<circle cx="1108.5" cy="255.5" r="5.45"/>
<circle cx="1110.8" cy="244.6" r="5.45"/>
<circle cx="1113.5" cy="240.8" r="5.45"/>
<circle cx="1115.7" cy="254.4" r="5.45"/>
<circle cx="1131.1" cy="214.8" r="5.45"/>
<circle cx="1146.3" cy="248.3" r="5.45"/>
<circle cx="1155.3" cy="252.8" r="5.45"/>
<circle cx="1162.1" cy="253.2" r="5.45"/>
<circle cx="1171.5" cy="247.9" r="5.45"/>
<circle cx="1177.2" cy="214.3" r="5.45"/>
<circle cx="1180.2" cy="246.4" r="5.45"/>
<circle cx="1182.4" cy="214.3" r="5.45"/>
<circle cx="1185.8" cy="223.8" r="5.45"/>
<circle cx="1191.5" cy="223.8" r="5.45"/>
<circle cx="1201.7" cy="243.1" r="5.45"/>
<circle cx="1210.7" cy="256.2" r="5.45"/>
<circle cx="1219.3" cy="225.4" r="5.45"/>
<circle cx="1228.4" cy="217.7" r="5.45"/>
<circle cx="1237.2" cy="205.3" r="5.45"/>
<circle cx="1259.4" cy="255.5" r="5.45"/>
<circle cx="1268" cy="230.2" r="5.45"/>
<circle cx="1279.3" cy="201.9" r="5.45"/>
<circle cx="1283.8" cy="211.8" r="5.45"/>
<circle cx="1285.8" cy="190.3" r="5.45"/>
<circle cx="1294.9" cy="217.5" r="5.45"/>
<circle cx="1299" cy="232.2" r="5.45"/>
<circle cx="1305.3" cy="237" r="5.45"/>
<circle cx="1310.3" cy="248.7" r="5.45"/>
<circle cx="1313.7" cy="238.5" r="5.45"/>
<circle cx="1316.6" cy="243.1" r="5.45"/>
<circle cx="1319.3" cy="229.5" r="5.45"/>
<circle cx="1321.1" cy="205" r="5.45"/>
<circle cx="1325" cy="229.5" r="5.45"/>
<circle cx="1325.7" cy="209.1" r="5.45"/>
<circle cx="1328.4" cy="215.9" r="5.45"/>
<circle cx="1332.4" cy="179" r="5.45"/>
<circle cx="1337.4" cy="208" r="5.45"/>
<circle cx="1341.3" cy="229.9" r="5.45"/>
<circle cx="1360.2" cy="237.2" r="5.45"/>
<circle cx="1365.1" cy="237.8" r="5.45"/>
<circle cx="1367.5" cy="224.3" r="5.45"/>
<circle cx="1371.8" cy="220.2" r="5.45"/>
<circle cx="1376.7" cy="239.4" r="5.45"/>
<circle cx="1378.6" cy="210.8" r="5.45"/>
<circle cx="1381" cy="206.1" r="5.45"/>
<circle cx="1386.3" cy="209.4" r="5.45"/>
<circle cx="1387.8" cy="218.1" r="5.45"/>
<circle cx="1398.9" cy="226" r="5.45"/>
<circle cx="1400.8" cy="244.1" r="5.45"/>
<circle cx="1403.2" cy="238.6" r="5.45"/>
<circle cx="1405.4" cy="257.7" r="5.45"/>
<circle cx="1410.5" cy="250.5" r="5.45"/>
<circle cx="1414.6" cy="248.8" r="5.45"/>
<circle cx="1418.1" cy="224.3" r="5.45"/>
<circle cx="1420.6" cy="219.5" r="5.45"/>
<circle cx="1423.1" cy="250.5" r="5.45"/>
<circle cx="1425.4" cy="234.6" r="5.45"/>
<circle cx="1427.4" cy="212.4" r="5.45"/>
<circle cx="1429.7" cy="188.1" r="5.45"/>
<circle cx="1436.5" cy="200.5" r="5.45"/>
<circle cx="1440.4" cy="237" r="5.45"/>
<circle cx="1445.3" cy="225.8" r="5.45"/>
<circle cx="1462.9" cy="225" r="5.45"/>
<circle cx="1467" cy="246.4" r="5.45"/>
<circle cx="1470.9" cy="225.6" r="5.45"/>
<circle cx="1474.9" cy="225" r="5.45"/>
<circle cx="1482.2" cy="191.5" r="5.45"/>
<circle cx="1487.4" cy="188.8" r="5.45"/>
<circle cx="1502.5" cy="206.4" r="5.45"/>
<circle cx="1509.3" cy="246.4" r="5.45"/>
<circle cx="1512" cy="249.8" r="5.45"/>
<circle cx="1518.4" cy="225" r="5.45"/>
<circle cx="1520.6" cy="241.5" r="5.45"/>
<circle cx="1524.7" cy="184.9" r="5.45"/>
<circle cx="1527.4" cy="206.9" r="5.45"/>
<circle cx="1533.8" cy="169.1" r="5.45"/>
<circle cx="1538.3" cy="215.9" r="5.45"/>
<circle cx="1540.3" cy="205.7" r="5.45"/>
<circle cx="1542.8" cy="222.7" r="5.45"/>
<circle cx="1547.3" cy="218.6" r="5.45"/>
<circle cx="1557.7" cy="247" r="5.45"/>
<circle cx="1562.5" cy="244.2" r="5.45"/>
<circle cx="1567.1" cy="253.2" r="5.45"/>
<circle cx="1569.9" cy="246.2" r="5.45"/>
<circle cx="1573.3" cy="210.8" r="5.45"/>
<circle cx="1576.1" cy="229.2" r="5.45"/>
<circle cx="1580.4" cy="199.5" r="5.45"/>
<circle cx="1583.2" cy="196.7" r="5.45"/>
<circle cx="1584.6" cy="159.9" r="5.45"/>
<circle cx="1591.1" cy="193.8" r="5.45"/>
<circle cx="1610.6" cy="250.4" r="5.45"/>
<circle cx="1615.7" cy="223" r="5.45"/>
<circle cx="1618" cy="217.9" r="5.45"/>
<circle cx="1620" cy="256.9" r="5.45"/>
<circle cx="1622.8" cy="248.4" r="5.45"/>
<circle cx="1624.8" cy="222.1" r="5.45"/>
<circle cx="1627" cy="216.5" r="5.45"/>
<circle cx="1631.3" cy="240.5" r="5.45"/>
<circle cx="1637.8" cy="225.8" r="5.45"/>
<circle cx="1639.7" cy="174.6" r="5.45"/>
<circle cx="1642" cy="184.8" r="5.45"/>
<circle cx="1644.5" cy="202.3" r="5.45"/>
<circle cx="1664.6" cy="255.2" r="5.45"/>
</g>
<g fill="#006400">
<circle cx="40.5" cy="304.1" r="5.45"/>
<circle cx="42.9" cy="303" r="5.45"/>
<circle cx="46.5" cy="297.3" r="5.45"/>
<circle cx="49.2" cy="300.7" r="5.45"/>
<circle cx="53.3" cy="295" r="5.45"/>
<circle cx="58.3" cy="291.7" r="5.45"/>
<circle cx="61" cy="295" r="5.45"/>
<circle cx="78" cy="315.4" r="5.45"/>
<circle cx="89.3" cy="317.7" r="5.45"/>
<circle cx="100.1" cy="305.7" r="5.45"/>
<circle cx="120" cy="296.7" r="5.45"/>
<circle cx="137.9" cy="316.6" r="5.45"/>
<circle cx="140.2" cy="316" r="5.45"/>
<circle cx="144.7" cy="311" r="5.45"/>
<circle cx="147" cy="313.2" r="5.45"/>
<circle cx="151.5" cy="306.4" r="5.45"/>
<circle cx="160" cy="296.7" r="5.45"/>
<circle cx="162.4" cy="301.9" r="5.45"/>
<circle cx="166.9" cy="308.2" r="5.45"/>
<circle cx="241.5" cy="319.5" r="5.45"/>
<circle cx="248.3" cy="299.1" r="5.45"/>
<circle cx="255" cy="296.2" r="5.45"/>
<circle cx="272.5" cy="291.2" r="5.45"/>
<circle cx="281.5" cy="305.2" r="5.45"/>
<circle cx="292.4" cy="311.6" r="5.45"/>
<circle cx="296.9" cy="314.3" r="5.45"/>
<circle cx="299.2" cy="304.1" r="5.45"/>
<circle cx="302.6" cy="301.9" r="5.45"/>
<circle cx="306" cy="303" r="5.45"/>
<circle cx="316.8" cy="298.9" r="5.45"/>
<circle cx="330.2" cy="309.3" r="5.45"/>
<circle cx="338.8" cy="313.6" r="5.45"/>
<circle cx="343.3" cy="297.3" r="5.45"/>
<circle cx="345.6" cy="304.1" r="5.45"/>
<circle cx="352.4" cy="316.6" r="5.45"/>
<circle cx="356.9" cy="304.1" r="5.45"/>
<circle cx="359.1" cy="309.8" r="5.45"/>
<circle cx="364.8" cy="292.4" r="5.45"/>
<circle cx="368.6" cy="293.9" r="5.45"/>
<circle cx="369.8" cy="311.6" r="5.45"/>
<circle cx="394.2" cy="310.9" r="5.45"/>
<circle cx="401" cy="308.2" r="5.45"/>
<circle cx="415.7" cy="299.6" r="5.45"/>
<circle cx="420.9" cy="284.9" r="5.45"/>
<circle cx="423.6" cy="297.5" r="5.45"/>
<circle cx="434.4" cy="293.9" r="5.45"/>
<circle cx="436.7" cy="309.3" r="5.45"/>
<circle cx="442.8" cy="317.9" r="5.45"/>
<circle cx="447.8" cy="315" r="5.45"/>
<circle cx="456.4" cy="303.2" r="5.45"/>
<circle cx="458.6" cy="305.9" r="5.45"/>
<circle cx="460.9" cy="296.9" r="5.45"/>
<circle cx="469.5" cy="307" r="5.45"/>
<circle cx="486.9" cy="309.3" r="5.45"/>
<circle cx="496" cy="306.6" r="5.45"/>
<circle cx="502.8" cy="301.4" r="5.45"/>
<circle cx="505" cy="310" r="5.45"/>
<circle cx="507.3" cy="276.5" r="5.45"/>
<circle cx="518.1" cy="298" r="5.45"/>
<circle cx="520.4" cy="263.4" r="5.45"/>
<circle cx="529.5" cy="310.4" r="5.45"/>
<circle cx="540.1" cy="312" r="5.45"/>
<circle cx="546.9" cy="301.4" r="5.45"/>
<circle cx="549.1" cy="312" r="5.45"/>
<circle cx="565" cy="301.4" r="5.45"/>
<circle cx="566.8" cy="308.6" r="5.45"/>
<circle cx="575.8" cy="286.2" r="5.45"/>
<circle cx="577.9" cy="295.7" r="5.45"/>
<circle cx="582.4" cy="304.3" r="5.45"/>
<circle cx="591" cy="311.6" r="5.45"/>
<circle cx="595.5" cy="311.6" r="5.45"/>
<circle cx="602.5" cy="298.4" r="5.45"/>
<circle cx="606.6" cy="307.5" r="5.45"/>
<circle cx="613.6" cy="300.9" r="5.45"/>
<circle cx="621.9" cy="264" r="5.45"/>
<circle cx="626.7" cy="300.2" r="5.45"/>
<circle cx="644.1" cy="303.2" r="5.45"/>
<circle cx="650.9" cy="303.6" r="5.45"/>
<circle cx="653.2" cy="309.3" r="5.45"/>
<circle cx="656.6" cy="302.5" r="5.45"/>
<circle cx="669" cy="287.4" r="5.45"/>
<circle cx="670.8" cy="282.6" r="5.45"/>
<circle cx="679.6" cy="290.1" r="5.45"/>
<circle cx="692.8" cy="302" r="5.45"/>
<circle cx="695" cy="310.4" r="5.45"/>
<circle cx="699.5" cy="302.5" r="5.45"/>
<circle cx="704.1" cy="303.2" r="5.45"/>
<circle cx="706.3" cy="296.4" r="5.45"/>
<circle cx="709.3" cy="307" r="5.45"/>
<circle cx="717" cy="290.5" r="5.45"/>
<circle cx="726" cy="291.9" r="5.45"/>
<circle cx="728.3" cy="307.5" r="5.45"/>
<circle cx="741.4" cy="305.2" r="5.45"/>
<circle cx="745.9" cy="298.7" r="5.45"/>
<circle cx="750.5" cy="309.3" r="5.45"/>
<circle cx="752.7" cy="307" r="5.45"/>
<circle cx="761.3" cy="299.6" r="5.45"/>
<circle cx="764" cy="276.5" r="5.45"/>
<circle cx="768.6" cy="288.9" r="5.45"/>
<circle cx="790" cy="306.6" r="5.45"/>
<circle cx="792.3" cy="301.4" r="5.45"/>
<circle cx="799" cy="309.8" r="5.45"/>
<circle cx="805.4" cy="313.8" r="5.45"/>
<circle cx="808.1" cy="308.6" r="5.45"/>
<circle cx="809.9" cy="289.4" r="5.45"/>
<circle cx="812.6" cy="299.1" r="5.45"/>
<circle cx="814.9" cy="293.5" r="5.45"/>
<circle cx="819.4" cy="290.1" r="5.45"/>
<circle cx="821.2" cy="302.5" r="5.45"/>
<circle cx="823.9" cy="284" r="5.45"/>
<circle cx="830.3" cy="295.7" r="5.45"/>
<circle cx="832.5" cy="269.7" r="5.45"/>
<circle cx="841.6" cy="296.9" r="5.45"/>
<circle cx="843.2" cy="309.3" r="5.45"/>
<circle cx="846.6" cy="308.2" r="5.45"/>
<circle cx="851.1" cy="314.3" r="5.45"/>
<circle cx="853.3" cy="315" r="5.45"/>
<circle cx="856.7" cy="307" r="5.45"/>
<circle cx="859" cy="299.1" r="5.45"/>
<circle cx="862.4" cy="305.9" r="5.45"/>
<circle cx="865.8" cy="307.5" r="5.45"/>
<circle cx="873.7" cy="291.7" r="5.45"/>
<circle cx="876.4" cy="309.8" r="5.45"/>
<circle cx="878.9" cy="284.9" r="5.45"/>
<circle cx="898.6" cy="315" r="5.45"/>
<circle cx="907.6" cy="305.2" r="5.45"/>
<circle cx="909.9" cy="303.6" r="5.45"/>
<circle cx="912.2" cy="308.6" r="5.45"/>
<circle cx="916.2" cy="288.9" r="5.45"/>
<circle cx="921.2" cy="291.2" r="5.45"/>
<circle cx="925.3" cy="299.1" r="5.45"/>
<circle cx="929.8" cy="295.7" r="5.45"/>
<circle cx="933.7" cy="313.4" r="5.45"/>
<circle cx="956.3" cy="303.6" r="5.45"/>
<circle cx="958.6" cy="307" r="5.45"/>
<circle cx="960.8" cy="299.1" r="5.45"/>
<circle cx="964.2" cy="299.1" r="5.45"/>
<circle cx="967.6" cy="290.1" r="5.45"/>
<circle cx="971.7" cy="285.5" r="5.45"/>
<circle cx="978.5" cy="298.4" r="5.45"/>
<circle cx="980.7" cy="314.3" r="5.45"/>
<circle cx="983" cy="304.8" r="5.45"/>
<circle cx="1004.9" cy="316.6" r="5.45"/>
<circle cx="1015.7" cy="309.9" r="5.45"/>
<circle cx="1022.5" cy="305" r="5.45"/>
<circle cx="1027.5" cy="300" r="5.45"/>
<circle cx="1029.3" cy="313" r="5.45"/>
<circle cx="1032" cy="297.2" r="5.45"/>
<circle cx="1033.6" cy="305" r="5.45"/>
<circle cx="1035.4" cy="310" r="5.45"/>
<circle cx="1042.9" cy="301.3" r="5.45"/>
<circle cx="1046.7" cy="317.6" r="5.45"/>
<circle cx="1049" cy="305.4" r="5.45"/>
<circle cx="1051.9" cy="310" r="5.45"/>
<circle cx="1058.1" cy="314.5" r="5.45"/>
<circle cx="1061.9" cy="313" r="5.45"/>
<circle cx="1065.5" cy="314.5" r="5.45"/>
<circle cx="1069.4" cy="304.3" r="5.45"/>
<circle cx="1071.6" cy="310" r="5.45"/>
<circle cx="1073.9" cy="302.8" r="5.45"/>
<circle cx="1079.5" cy="302.8" r="5.45"/>
<circle cx="1084.5" cy="313.5" r="5.45"/>
<circle cx="1086.8" cy="302.8" r="5.45"/>
<circle cx="1097.6" cy="314.5" r="5.45"/>
<circle cx="1102.2" cy="317.6" r="5.45"/>
<circle cx="1108.5" cy="315" r="5.45"/>
<circle cx="1110.8" cy="312" r="5.45"/>
<circle cx="1113.5" cy="310" r="5.45"/>
<circle cx="1115.7" cy="315" r="5.45"/>
<circle cx="1131.1" cy="304.3" r="5.45"/>
<circle cx="1146.3" cy="309.8" r="5.45"/>
<circle cx="1155.3" cy="317.2" r="5.45"/>
<circle cx="1162.1" cy="315.6" r="5.45"/>
<circle cx="1171.5" cy="310.2" r="5.45"/>
<circle cx="1177.2" cy="295.7" r="5.45"/>
<circle cx="1180.2" cy="310" r="5.45"/>
<circle cx="1182.4" cy="300.2" r="5.45"/>
<circle cx="1185.8" cy="303.6" r="5.45"/>
<circle cx="1190.8" cy="306.6" r="5.45"/>
<circle cx="1201.7" cy="307.7" r="5.45"/>
<circle cx="1210.7" cy="317.2" r="5.45"/>
<circle cx="1219.3" cy="299.8" r="5.45"/>
<circle cx="1228.4" cy="296.9" r="5.45"/>
<circle cx="1237.2" cy="291.2" r="5.45"/>
<circle cx="1259.4" cy="315" r="5.45"/>
<circle cx="1268" cy="298" r="5.45"/>
<circle cx="1279.3" cy="285.5" r="5.45"/>
<circle cx="1283.8" cy="290.7" r="5.45"/>
<circle cx="1285.8" cy="276" r="5.45"/>
<circle cx="1294.9" cy="285.1" r="5.45"/>
<circle cx="1299" cy="302.5" r="5.45"/>
<circle cx="1305.7" cy="299.1" r="5.45"/>
<circle cx="1310.3" cy="308.2" r="5.45"/>
<circle cx="1312.1" cy="312.7" r="5.45"/>
<circle cx="1316.6" cy="308.8" r="5.45"/>
<circle cx="1319.3" cy="303.6" r="5.45"/>
<circle cx="1321.1" cy="290.1" r="5.45"/>
<circle cx="1323.8" cy="304.8" r="5.45"/>
<circle cx="1326.1" cy="293.5" r="5.45"/>
<circle cx="1329.5" cy="296.9" r="5.45"/>
<circle cx="1332.4" cy="278.1" r="5.45"/>
<circle cx="1337.4" cy="292.3" r="5.45"/>
<circle cx="1341.3" cy="308.2" r="5.45"/>
<circle cx="1360" cy="302.5" r="5.45"/>
<circle cx="1363.4" cy="307.5" r="5.45"/>
<circle cx="1366.8" cy="302.7" r="5.45"/>
<circle cx="1370.2" cy="297" r="5.45"/>
<circle cx="1376.3" cy="307.2" r="5.45"/>
<circle cx="1378.6" cy="299" r="5.45"/>
<circle cx="1381.5" cy="294.8" r="5.45"/>
<circle cx="1387.1" cy="299.3" r="5.45"/>
<circle cx="1398.5" cy="302.7" r="5.45"/>
<circle cx="1401.9" cy="309.5" r="5.45"/>
<circle cx="1403" cy="306.1" r="5.45"/>
<circle cx="1405.2" cy="314" r="5.45"/>
<circle cx="1412" cy="312.9" r="5.45"/>
<circle cx="1414.3" cy="314" r="5.45"/>
<circle cx="1418.4" cy="297.5" r="5.45"/>
<circle cx="1423.3" cy="317.4" r="5.45"/>
<circle cx="1425.2" cy="305" r="5.45"/>
<circle cx="1427.4" cy="294.8" r="5.45"/>
<circle cx="1429.7" cy="278.9" r="5.45"/>
<circle cx="1436.5" cy="286.9" r="5.45"/>
<circle cx="1440.8" cy="310.6" r="5.45"/>
<circle cx="1445.5" cy="301.6" r="5.45"/>
<circle cx="1462.9" cy="294.3" r="5.45"/>
<circle cx="1467" cy="309.5" r="5.45"/>
<circle cx="1472" cy="302.7" r="5.45"/>
<circle cx="1474.3" cy="297" r="5.45"/>
<circle cx="1482.2" cy="280.1" r="5.45"/>
<circle cx="1487.8" cy="281.2" r="5.45"/>
<circle cx="1502.5" cy="274.9" r="5.45"/>
<circle cx="1509.3" cy="311.7" r="5.45"/>
<circle cx="1512" cy="312.9" r="5.45"/>
<circle cx="1518.4" cy="296.6" r="5.45"/>
<circle cx="1520.6" cy="303.8" r="5.45"/>
<circle cx="1524.7" cy="269.2" r="5.45"/>
<circle cx="1527.4" cy="286.9" r="5.45"/>
<circle cx="1533.8" cy="253.6" r="5.45"/>
<circle cx="1537.6" cy="299.3" r="5.45"/>
<circle cx="1540.3" cy="293.2" r="5.45"/>
<circle cx="1542.8" cy="305" r="5.45"/>
<circle cx="1547.3" cy="294.3" r="5.45"/>
<circle cx="1557.5" cy="310.2" r="5.45"/>
<circle cx="1562.7" cy="309.1" r="5.45"/>
<circle cx="1566.5" cy="313.6" r="5.45"/>
<circle cx="1569.9" cy="310.2" r="5.45"/>
<circle cx="1573.3" cy="292.5" r="5.45"/>
<circle cx="1575.6" cy="303" r="5.45"/>
<circle cx="1580.1" cy="278.5" r="5.45"/>
<circle cx="1582.4" cy="276.2" r="5.45"/>
<circle cx="1584.6" cy="252.5" r="5.45"/>
<circle cx="1591.4" cy="279" r="5.45"/>
<circle cx="1610.7" cy="310.7" r="5.45"/>
<circle cx="1615.2" cy="287.1" r="5.45"/>
<circle cx="1617.9" cy="288.7" r="5.45"/>
<circle cx="1619.7" cy="312.9" r="5.45"/>
<circle cx="1623.1" cy="309.1" r="5.45"/>
<circle cx="1625.4" cy="297.7" r="5.45"/>
<circle cx="1628.3" cy="298.4" r="5.45"/>
<circle cx="1631" cy="307.9" r="5.45"/>
<circle cx="1637.8" cy="297.7" r="5.45"/>
<circle cx="1639.7" cy="264.5" r="5.45"/>
<circle cx="1641.9" cy="275.8" r="5.45"/>
<circle cx="1644.2" cy="289.4" r="5.45"/>
<circle cx="1664.6" cy="315.9" r="5.45"/>
</g>
</g><g clip-path="url(#pc)">
<text x="64.08" y="420.2" font-size="16.1" text-anchor="middle" fill="#000">1989</text>
<text x="114.92" y="420.2" font-size="16.1" text-anchor="middle" fill="#000">1990</text>
<text x="165.75" y="420.2" font-size="16.1" text-anchor="middle" fill="#000">1991</text>
<text x="216.66" y="420.2" font-size="16.1" text-anchor="middle" fill="#000">1992</text>
<text x="267.56" y="420.2" font-size="16.1" text-anchor="middle" fill="#000">1993</text>
<text x="318.39" y="420.2" font-size="16.1" text-anchor="middle" fill="#000">1994</text>
<text x="369.23" y="420.2" font-size="16.1" text-anchor="middle" fill="#000">1995</text>
<text x="420.13" y="420.2" font-size="16.1" text-anchor="middle" fill="#000">1996</text>
<text x="471.03" y="420.2" font-size="16.1" text-anchor="middle" fill="#000">1997</text>
<text x="521.87" y="420.2" font-size="16.1" text-anchor="middle" fill="#000">1998</text>
<text x="572.7" y="420.2" font-size="16.1" text-anchor="middle" fill="#000">1999</text>
<text x="623.61" y="420.2" font-size="16.1" text-anchor="middle" fill="#000">2000</text>
<text x="674.51" y="420.2" font-size="16.1" text-anchor="middle" fill="#000">2001</text>
<text x="725.34" y="420.2" font-size="16.1" text-anchor="middle" fill="#000">2002</text>
<text x="776.18" y="420.2" font-size="16.1" text-anchor="middle" fill="#000">2003</text>
<text x="827.08" y="420.2" font-size="16.1" text-anchor="middle" fill="#000">2004</text>
<text x="877.99" y="420.2" font-size="16.1" text-anchor="middle" fill="#000">2005</text>
<text x="928.82" y="420.2" font-size="16.1" text-anchor="middle" fill="#000">2006</text>
<text x="979.66" y="420.2" font-size="16.1" text-anchor="middle" fill="#000">2007</text>
<text x="1030.56" y="420.2" font-size="16.1" text-anchor="middle" fill="#000">2008</text>
<text x="1081.46" y="420.2" font-size="16.1" text-anchor="middle" fill="#000">2009</text>
<text x="1132.3" y="420.2" font-size="16.1" text-anchor="middle" fill="#000">2010</text>
<text x="1183.13" y="420.2" font-size="16.1" text-anchor="middle" fill="#000">2011</text>
<text x="1234.03" y="420.2" font-size="16.1" text-anchor="middle" fill="#000">2012</text>
<text x="1284.94" y="420.2" font-size="16.1" text-anchor="middle" fill="#000">2013</text>
<text x="1335.77" y="420.2" font-size="16.1" text-anchor="middle" fill="#000">2014</text>
<text x="1386.61" y="420.2" font-size="16.1" text-anchor="middle" fill="#000">2015</text>
<text x="1437.51" y="420.2" font-size="16.1" text-anchor="middle" fill="#000">2016</text>
<text x="1488.41" y="420.2" font-size="16.1" text-anchor="middle" fill="#000">2017</text>
<text x="1539.25" y="420.2" font-size="16.1" text-anchor="middle" fill="#000">2018</text>
<text x="1590.08" y="420.2" font-size="16.1" text-anchor="middle" fill="#000">2019</text>
<text x="1640.99" y="420.2" font-size="16.1" text-anchor="middle" fill="#000">2020</text>
</g>
<line x1="34.5" x2="38.4" y1="430.5" y2="430.5" stroke="#333333" stroke-width="1.1"/>
<text x="31.7" y="434.96" font-size="12.4" text-anchor="end" fill="#4D4D4D">0.75</text>
<line x1="34.5" x2="38.4" y1="345.9" y2="345.9" stroke="#333333" stroke-width="1.1"/>
<text x="31.7" y="350.36" font-size="12.4" text-anchor="end" fill="#4D4D4D">1.00</text>
<line x1="34.5" x2="38.4" y1="261.3" y2="261.3" stroke="#333333" stroke-width="1.1"/>
<text x="31.7" y="265.76" font-size="12.4" text-anchor="end" fill="#4D4D4D">1.25</text>
<line x1="34.5" x2="38.4" y1="176.7" y2="176.7" stroke="#333333" stroke-width="1.1"/>
<text x="31.7" y="181.16" font-size="12.4" text-anchor="end" fill="#4D4D4D">1.50</text>
<line x1="34.5" x2="38.4" y1="92.1" y2="92.1" stroke="#333333" stroke-width="1.1"/>
<text x="31.7" y="96.56" font-size="12.4" text-anchor="end" fill="#4D4D4D">1.75</text>
<line x1="34.5" x2="38.4" y1="7.5" y2="7.5" stroke="#333333" stroke-width="1.1"/>
<text x="31.7" y="11.96" font-size="12.4" text-anchor="end" fill="#4D4D4D">2.00</text>
<line x1="38.67" x2="38.67" y1="430.4" y2="434.6" stroke="#333333" stroke-width="1.1"/>
<line x1="89.5" x2="89.5" y1="430.4" y2="434.6" stroke="#333333" stroke-width="1.1"/>
<line x1="140.33" x2="140.33" y1="430.4" y2="434.6" stroke="#333333" stroke-width="1.1"/>
<line x1="191.17" x2="191.17" y1="430.4" y2="434.6" stroke="#333333" stroke-width="1.1"/>
<line x1="242.14" x2="242.14" y1="430.4" y2="434.6" stroke="#333333" stroke-width="1.1"/>
<line x1="292.98" x2="292.98" y1="430.4" y2="434.6" stroke="#333333" stroke-width="1.1"/>
<line x1="343.81" x2="343.81" y1="430.4" y2="434.6" stroke="#333333" stroke-width="1.1"/>
<line x1="394.64" x2="394.64" y1="430.4" y2="434.6" stroke="#333333" stroke-width="1.1"/>
<line x1="445.62" x2="445.62" y1="430.4" y2="434.6" stroke="#333333" stroke-width="1.1"/>
<line x1="496.45" x2="496.45" y1="430.4" y2="434.6" stroke="#333333" stroke-width="1.1"/>
<line x1="547.29" x2="547.29" y1="430.4" y2="434.6" stroke="#333333" stroke-width="1.1"/>
<line x1="598.12" x2="598.12" y1="430.4" y2="434.6" stroke="#333333" stroke-width="1.1"/>
<line x1="649.09" x2="649.09" y1="430.4" y2="434.6" stroke="#333333" stroke-width="1.1"/>
<line x1="699.93" x2="699.93" y1="430.4" y2="434.6" stroke="#333333" stroke-width="1.1"/>
<line x1="750.76" x2="750.76" y1="430.4" y2="434.6" stroke="#333333" stroke-width="1.1"/>
<line x1="801.6" x2="801.6" y1="430.4" y2="434.6" stroke="#333333" stroke-width="1.1"/>
<line x1="852.57" x2="852.57" y1="430.4" y2="434.6" stroke="#333333" stroke-width="1.1"/>
<line x1="903.4" x2="903.4" y1="430.4" y2="434.6" stroke="#333333" stroke-width="1.1"/>
<line x1="954.24" x2="954.24" y1="430.4" y2="434.6" stroke="#333333" stroke-width="1.1"/>
<line x1="1005.07" x2="1005.07" y1="430.4" y2="434.6" stroke="#333333" stroke-width="1.1"/>
<line x1="1056.05" x2="1056.05" y1="430.4" y2="434.6" stroke="#333333" stroke-width="1.1"/>
<line x1="1106.88" x2="1106.88" y1="430.4" y2="434.6" stroke="#333333" stroke-width="1.1"/>
<line x1="1157.71" x2="1157.71" y1="430.4" y2="434.6" stroke="#333333" stroke-width="1.1"/>
<line x1="1208.55" x2="1208.55" y1="430.4" y2="434.6" stroke="#333333" stroke-width="1.1"/>
<line x1="1259.52" x2="1259.52" y1="430.4" y2="434.6" stroke="#333333" stroke-width="1.1"/>
<line x1="1310.36" x2="1310.36" y1="430.4" y2="434.6" stroke="#333333" stroke-width="1.1"/>
<line x1="1361.19" x2="1361.19" y1="430.4" y2="434.6" stroke="#333333" stroke-width="1.1"/>
<line x1="1412.02" x2="1412.02" y1="430.4" y2="434.6" stroke="#333333" stroke-width="1.1"/>
<line x1="1463" x2="1463" y1="430.4" y2="434.6" stroke="#333333" stroke-width="1.1"/>
<line x1="1513.83" x2="1513.83" y1="430.4" y2="434.6" stroke="#333333" stroke-width="1.1"/>
<line x1="1564.67" x2="1564.67" y1="430.4" y2="434.6" stroke="#333333" stroke-width="1.1"/>
<line x1="1615.5" x2="1615.5" y1="430.4" y2="434.6" stroke="#333333" stroke-width="1.1"/>
<rect x="1687.1" y="195.1" width="23.8" height="72.45" fill="#F2F2F2"/>
<line x1="1689.2" x2="1709.1" y1="206.77" y2="206.77" stroke="#0000FF" stroke-width="2.45"/>
<circle cx="1699.1" cy="206.77" r="5.45" fill="#0000FF"/>
<text x="1718.7" y="210.6" font-size="12.3" fill="#000">NDVI</text>
<line x1="1689.2" x2="1709.1" y1="230.92" y2="230.92" stroke="#006400" stroke-width="2.45"/>
<circle cx="1699.1" cy="230.92" r="5.45" fill="#006400"/>
<text x="1718.7" y="234.75" font-size="12.3" fill="#000">SWIR2</text>
<line x1="1689.2" x2="1709.1" y1="255.07" y2="255.07" stroke="#FF0000" stroke-width="2.45"/>
<circle cx="1699.1" cy="255.07" r="5.45" fill="#FF0000"/>
<text x="1718.7" y="258.9" font-size="12.3" fill="#000">SWIR1</text>
</svg></body></html>
